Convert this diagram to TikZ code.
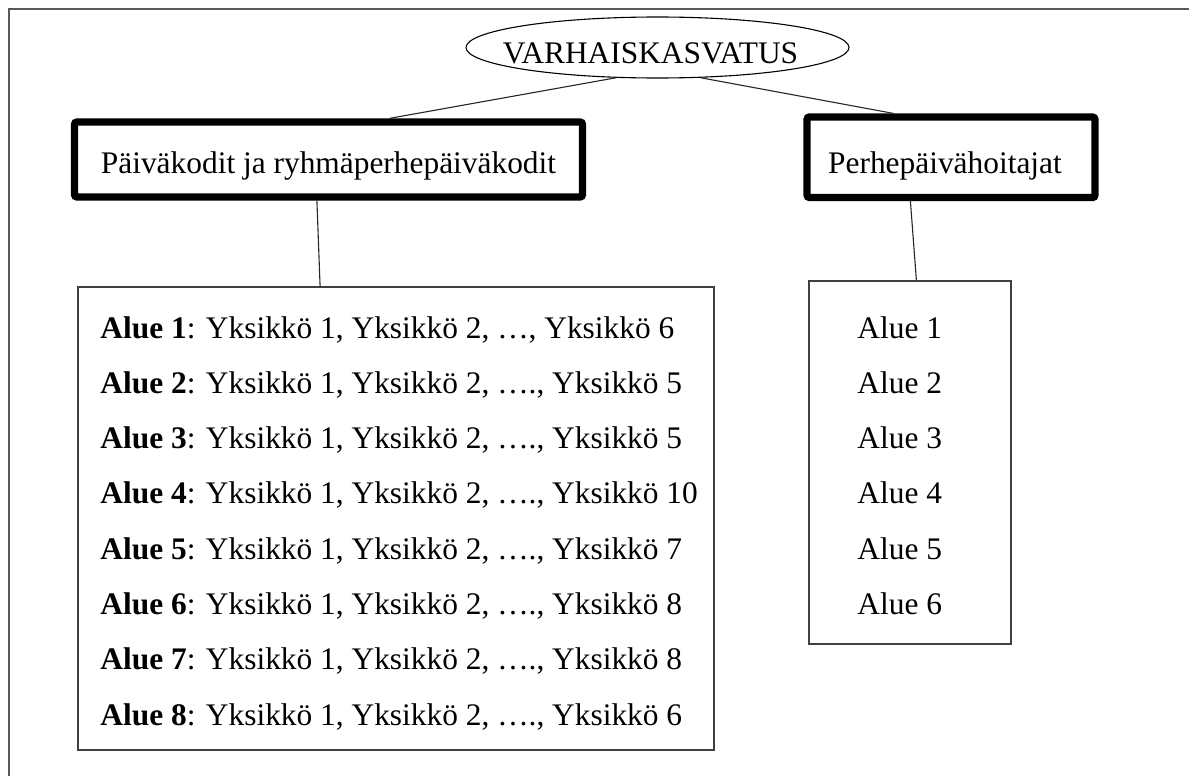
\documentclass[tikz,border=0pt]{standalone}
\usepackage{fontspec}
\setmainfont{Liberation Serif}
\usetikzlibrary{shapes.geometric}
\begin{document}
\begin{tikzpicture}[x=0.5pt,y=-0.5pt,
  thin line/.style={line width=0.55pt, draw=black!85},
  thickbox/.style={draw=black, line width=3.6pt, rounded corners=1.2pt, inner sep=0pt},
  listbox/.style={draw=black!75, line width=0.6pt, inner sep=0pt},
  txt/.style={font=\fontsize{15.7}{18}\selectfont, inner sep=0pt, anchor=base west},
  ctxt/.style={font=\fontsize{15.7}{18}\selectfont, inner sep=0pt, anchor=base}]
\useasboundingbox (0,0) rectangle (1189,776);
% partial frame
\draw[black!65, line width=0.6pt] (9,776) -- (9,9) -- (1189,9);
% top ellipse
\node[ellipse, draw=black, line width=0.55pt, minimum width=191.5pt, minimum height=30.5pt, inner sep=0pt] (ell) at (657.5,47.5) {};
\node[ctxt] (tell) at (650.5,63) {VARHAISKASVATUS};
% second level boxes
\node[thickbox, minimum width=254pt, minimum height=37.5pt] (box1) at (328.5,159.5) {};
\node[ctxt] (tb1) at (328.5,173) {Päiväkodit ja ryhmäperhepäiväkodit};
\node[thickbox, minimum width=144pt, minimum height=40.25pt] (box2) at (951,157.25) {};
\node[ctxt] (tb2) at (945,173) {Perhepäivähoitajat};
% list boxes
\node[listbox, minimum width=318pt, minimum height=231.5pt] (list1) at (396,518.5) {};
\node[listbox, minimum width=101pt, minimum height=181.5pt] (list2) at (910,462.5) {};
% connectors
\draw[thin line] (ell.216) -- ([xshift=159.25pt]box1.north west);
\draw[thin line] (ell.325) -- ([xshift=45pt]box2.north west);
\draw[thin line] ([xshift=123pt]box1.south west) -- ([xshift=121.35pt]list1.north west);
\draw[thin line] ([xshift=53.5pt]box2.south west) -- ([xshift=54pt]list2.north west);
% left list texts
\foreach \n/\last/\dots [count=\i from 0] in {1/6/…,2/5/….,3/5/….,4/10/….,5/7/….,6/8/….,7/8/….,8/6/….} {
  \node[txt] (l\n) at (100,338+55.3*\i) {\textbf{Alue \n}: Yksikkö 1, Yksikkö 2, \dots, Yksikkö \last};
}
% right list texts
\foreach \n [count=\i from 0] in {1,...,6} {
  \node[txt] (r\n) at (857,338+55.3*\i) {Alue \n};
}
\end{tikzpicture}
\end{document}
